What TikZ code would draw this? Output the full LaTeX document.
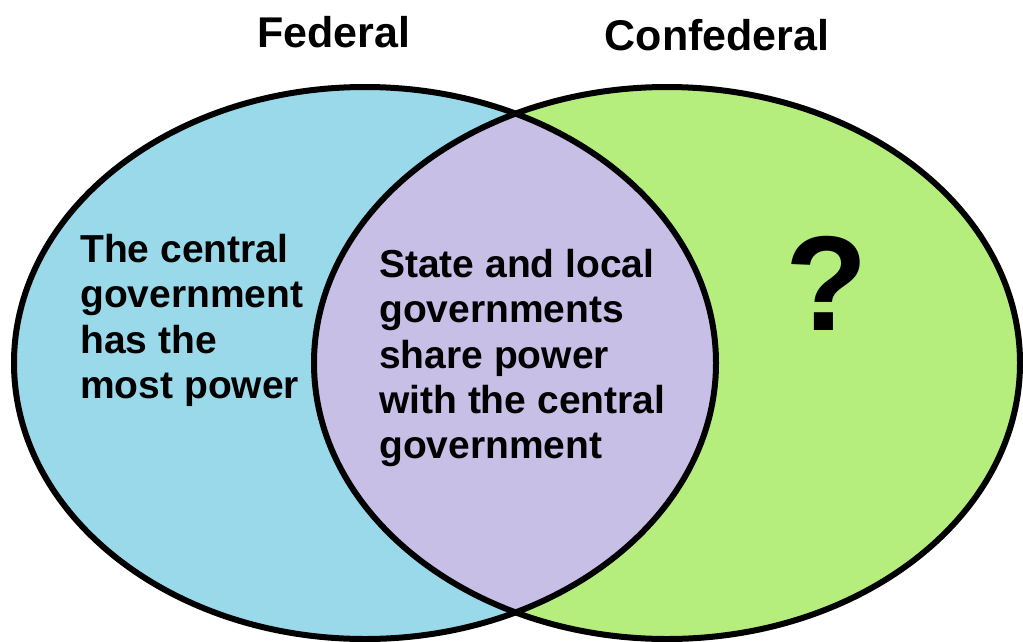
\documentclass[tikz,border=0pt]{standalone}
\usepackage{fontspec}
\setmainfont{Liberation Sans}
\usepackage{tikz}
\usetikzlibrary{positioning}
\definecolor{fedclr}{RGB}{153,217,234}
\definecolor{confclr}{RGB}{181,238,125}
\definecolor{bothclr}{RGB}{200,191,231}
\tikzset{ %
  ,every node/.style={font=\bfseries, inner sep=0}
  ,title/.style={anchor=base, font=\bfseries\fontsize{43}{50}\selectfont}
  ,body/.style={anchor=north west, align=left, font=\bfseries\fontsize{39}{45.3}\selectfont}
  ,qmark/.style={anchor=base, font=\bfseries\fontsize{135}{140}\selectfont}
  ,rim/.style={line width=6pt}
}
\def\setA{(fed) ellipse [x radius=351pt, y radius=276pt]}
\def\setB{(conf) ellipse [x radius=353pt, y radius=276pt]}
\begin{document}
\begin{tikzpicture}[x=1pt, y=-1pt]
      \useasboundingbox (0,0) rectangle (1023,641);
      \coordinate (fed) at (365,363);
      \coordinate (conf) at (667,363);
      \fill[fedclr] \setA;
      \fill[confclr] \setB;
      \begin{scope}
        \clip \setA;
        \fill[bothclr] \setB;
      \end{scope}
      \draw[rim] \setA;
      \draw[rim] \setB;
      \node[title] (fedlbl) at (334,47) {Federal};
      \node[title] (conflbl) at (717,50) {Confederal};
      \node[body] (fedtxt) at (80,234) {The central\\government\\has the\\most power};
      \node[body] (bothtxt) at (379,249) {State and local\\governments\\share power\\with the central\\government};
      \node[qmark] (conftxt) at (827,330) {?};
    \end{tikzpicture}
\end{document}
